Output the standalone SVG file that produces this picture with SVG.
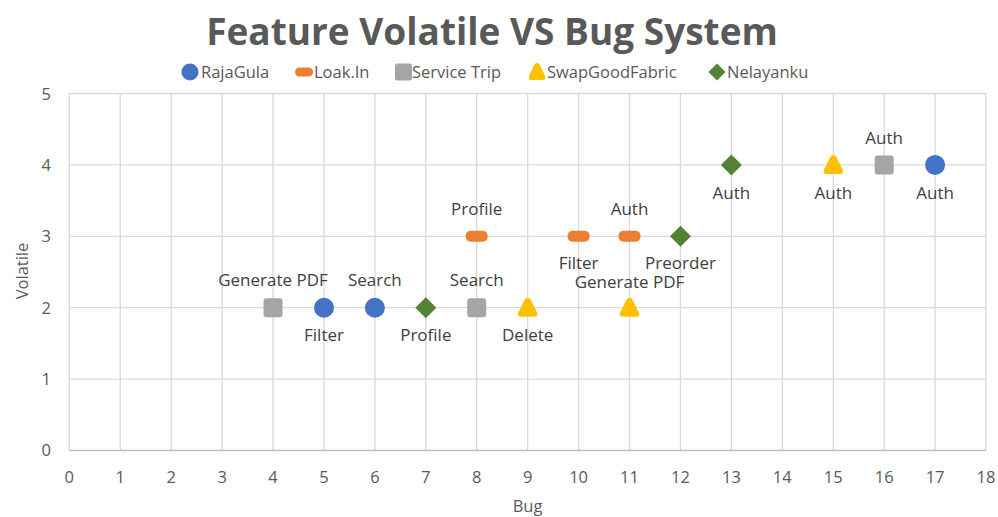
<svg xmlns="http://www.w3.org/2000/svg" width="998" height="517" viewBox="0 0 998 517">
<style>
.grid{stroke:#D9D9D9;stroke-width:1.3;fill:none}
.axis{stroke:#BFBFBF;stroke-width:1.5;fill:none}
.tick{font-family:"Open Sans","Liberation Sans",sans-serif;font-size:16.5px;fill:#595959}
.lbl{font-family:"Open Sans","Liberation Sans",sans-serif;font-size:17px;fill:#404040;text-anchor:middle}
.leg{font-family:"Open Sans","Liberation Sans",sans-serif;font-size:16.5px;fill:#595959}
.title{font-family:"Open Sans","Liberation Sans",sans-serif;font-size:37px;font-weight:bold;fill:#595959;text-anchor:middle}
.blue{fill:#4472C4}
.orange{fill:#ED7D31}
.gray{fill:#A5A5A5}
.yellow{fill:#FFC000}
.green{fill:#548235}
</style>
<defs>
<circle id="mCircle" r="10"/>
<rect id="mDash" x="-11" y="-5.5" width="22" height="11" rx="5"/>
<rect id="mSquare" x="-9.5" y="-9.5" width="19" height="19" rx="3"/>
<path id="mTri" d="M0,-10 Q2,-10 3,-8 L9.5,5 Q10.5,9 7,9 L-7,9 Q-10.5,9 -9.5,5 L-3,-8 Q-2,-10 0,-10 Z"/>
<path id="mDiamond" d="M0,-10.5 L10.5,0 L0,10.5 L-10.5,0 Z" stroke-linejoin="round"/>
</defs>
<rect width="998" height="517" fill="#FFFFFF"/>
<text class="title" x="492" y="45">Feature Volatile VS Bug System</text>
<g id="legend">
<circle class="blue" cx="190" cy="72" r="8.5"/>
<text class="leg" x="201" y="78">RajaGula</text>
<rect class="orange" x="295" y="67.5" width="18" height="9" rx="4.5"/>
<text class="leg" x="314" y="78">Loak.In</text>
<rect class="gray" x="395" y="63.5" width="17" height="17" rx="2.5"/>
<text class="leg" x="412" y="78">Service Trip</text>
<path class="yellow" d="M537,63 Q539,63 540,65 L545,76 Q546,80 543,80 L531,80 Q528,80 529,76 L534,65 Q535,63 537,63 Z"/>
<text class="leg" x="547" y="78">SwapGoodFabric</text>
<path class="green" d="M717,63.5 L725.5,72 L717,80.5 L708.5,72 Z"/>
<text class="leg" x="727" y="78">Nelayanku</text>
</g>
<g id="grid">
<path class="grid" d="M69.3,93.5H986M69.3,164.9H986M69.3,236.3H986M69.3,307.7H986M69.3,379.1H986"/>
<path class="grid" d="M69.3,93.5V450.5M120.2,93.5V450.5M171.2,93.5V450.5M222.1,93.5V450.5M273,93.5V450.5M324,93.5V450.5M374.9,93.5V450.5M425.8,93.5V450.5M476.7,93.5V450.5M527.7,93.5V450.5M578.6,93.5V450.5M629.5,93.5V450.5M680.5,93.5V450.5M731.4,93.5V450.5M782.3,93.5V450.5M833.3,93.5V450.5M884.2,93.5V450.5M935.1,93.5V450.5M986,93.5V450.5"/>
<path class="axis" d="M69.3,450.5H986"/>
</g>
<g id="yticks" class="tick" text-anchor="end">
<text x="51" y="100">5</text>
<text x="51" y="171">4</text>
<text x="51" y="242">3</text>
<text x="51" y="314">2</text>
<text x="51" y="385">1</text>
<text x="51" y="456">0</text>
</g>
<g id="xticks" class="tick" text-anchor="middle">
<text x="69.3" y="483">0</text>
<text x="120.2" y="483">1</text>
<text x="171.2" y="483">2</text>
<text x="222.1" y="483">3</text>
<text x="273" y="483">4</text>
<text x="324" y="483">5</text>
<text x="374.9" y="483">6</text>
<text x="425.8" y="483">7</text>
<text x="476.7" y="483">8</text>
<text x="527.7" y="483">9</text>
<text x="578.6" y="483">10</text>
<text x="629.5" y="483">11</text>
<text x="680.5" y="483">12</text>
<text x="731.4" y="483">13</text>
<text x="782.3" y="483">14</text>
<text x="833.3" y="483">15</text>
<text x="884.2" y="483">16</text>
<text x="935.1" y="483">17</text>
<text x="986" y="483">18</text>
</g>
<text class="tick" x="527.5" y="512" text-anchor="middle" font-size="18">Bug</text>
<text class="tick" x="0" y="0" text-anchor="middle" font-size="18" transform="translate(28,271) rotate(-90)">Volatile</text>
<g id="series-rajagula">
<g id="rg-5-2"><use href="#mCircle" class="blue" x="324" y="307.7"/><text class="lbl" x="324" y="341">Filter</text></g>
<g id="rg-6-2"><use href="#mCircle" class="blue" x="374.9" y="307.7"/><text class="lbl" x="374.9" y="286">Search</text></g>
<g id="rg-17-4"><use href="#mCircle" class="blue" x="935.1" y="164.9"/><text class="lbl" x="935.1" y="199">Auth</text></g>
</g>
<g id="series-loakin">
<g id="li-8-3"><use href="#mDash" class="orange" x="476.7" y="236.3"/><text class="lbl" x="476.7" y="215">Profile</text></g>
<g id="li-10-3"><use href="#mDash" class="orange" x="578.6" y="236.3"/><text class="lbl" x="578.6" y="269">Filter</text></g>
<g id="li-11-3"><use href="#mDash" class="orange" x="629.5" y="236.3"/><text class="lbl" x="629.5" y="215">Auth</text></g>
</g>
<g id="series-servicetrip">
<g id="st-4-2"><use href="#mSquare" class="gray" x="273" y="307.7"/><text class="lbl" x="273" y="286">Generate PDF</text></g>
<g id="st-8-2"><use href="#mSquare" class="gray" x="476.7" y="307.7"/><text class="lbl" x="476.7" y="286">Search</text></g>
<g id="st-16-4"><use href="#mSquare" class="gray" x="884.2" y="164.9"/><text class="lbl" x="884.2" y="144">Auth</text></g>
</g>
<g id="series-swapgoodfabric">
<g id="sg-9-2"><use href="#mTri" class="yellow" x="527.7" y="307.7"/><text class="lbl" x="527.7" y="341">Delete</text></g>
<g id="sg-11-2"><use href="#mTri" class="yellow" x="629.5" y="307.7"/><text class="lbl" x="629.5" y="288">Generate PDF</text></g>
<g id="sg-15-4"><use href="#mTri" class="yellow" x="833.3" y="164.9"/><text class="lbl" x="833.3" y="199">Auth</text></g>
</g>
<g id="series-nelayanku">
<g id="nl-7-2"><use href="#mDiamond" class="green" x="425.8" y="307.7"/><text class="lbl" x="425.8" y="341">Profile</text></g>
<g id="nl-12-3"><use href="#mDiamond" class="green" x="680.5" y="236.3"/><text class="lbl" x="680.5" y="269">Preorder</text></g>
<g id="nl-13-4"><use href="#mDiamond" class="green" x="731.4" y="164.9"/><text class="lbl" x="731.4" y="199">Auth</text></g>
</g>
</svg>
